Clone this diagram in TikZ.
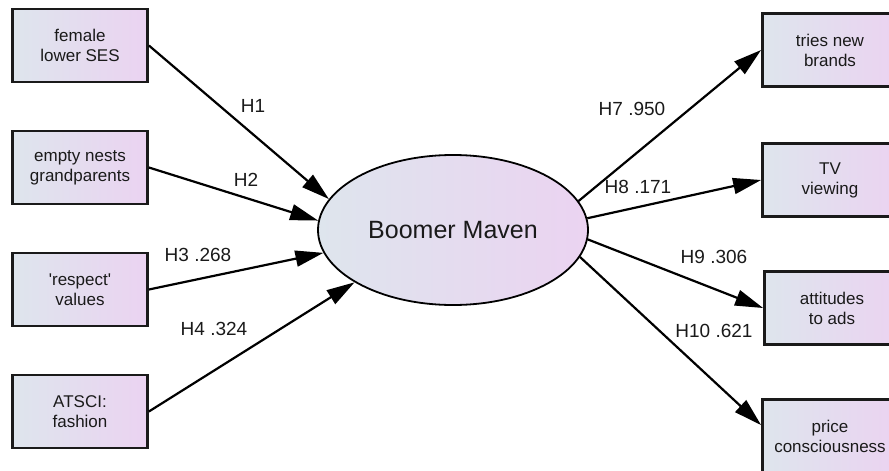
\documentclass[tikz,border=0pt]{standalone}
\usepackage{fontspec}
\setmainfont{Liberation Sans}
\usepackage{tikz}
\usetikzlibrary{arrows.meta,shapes.geometric}
\usepackage{xcolor}
\definecolor{fillL}{HTML}{DEE5ED}
\definecolor{fillR}{HTML}{EBD3F1}
\definecolor{ink}{HTML}{1A1A1A}

\begin{document}
\begin{tikzpicture}[x=1pt, y=-1pt,
  obs/.style={draw=ink, line width=2.8pt, left color=fillL, right color=fillR,
    minimum width=135pt, minimum height=73pt, align=center, text=ink,
    font=\fontsize{17}{20}\selectfont},
  lat/.style={ellipse, draw=black, line width=1.8pt, left color=fillL, right color=fillR,
    minimum width=270pt, minimum height=150pt, inner sep=0pt, text=ink,
    font=\fontsize{25}{28}\selectfont},
  hyp/.style={line width=2.2pt, -{Triangle[length=28pt, width=16pt]}},
  lab/.style={text=ink, font=\fontsize{19}{21}\selectfont}]
\useasboundingbox (0,0) rectangle (889,471);
% predictors
\node[obs] (fem) at (80,45.5) {female\\lower SES};
\node[obs] (nest) at (80,167.5) {empty nests\\grandparents};
\node[obs] (resp) at (80,289.5) {\textquotesingle respect\textquotesingle\\values};
\node[obs] (ats) at (80,411.5) {ATSCI:\\fashion};
% latent
\node[lat] (maven) at (453,230) {Boomer Maven};
% outcomes
\node[obs] (brand) at (830,50) {tries new\\brands};
\node[obs] (tv) at (830,180) {TV\\viewing};
\node[obs] (ads) at (832,308) {attitudes\\to ads};
\node[obs] (price) at (830,436) {price\\consciousness};
% paths
\draw[hyp] (fem.east) -- (maven.166);
\draw[hyp] (nest.east) -- (maven.176);
\draw[hyp] (resp.east) -- (maven.190);
\draw[hyp] (ats.east) -- (maven.208);
\draw[hyp] (maven.13) -- (brand.west);
\draw[hyp] (maven.5) -- (tv.west);
\draw[hyp] (maven.-4) -- (ads.west);
\draw[hyp] (maven.-12) -- (price.171);
\foreach \n/\x/\y/\t in {h1/253/106/H1, h2/246/180/H2, h3/198/254.5/H3 .268,
    h4/214/329/H4 .324, h7/632/109/H7 .950, h8/638/187/H8 .171,
    h9/714/257/H9 .306, h10/714/331/H10 .621}
    \node[lab] (\n) at (\x,\y) {\t};
\end{tikzpicture}
\end{document}
